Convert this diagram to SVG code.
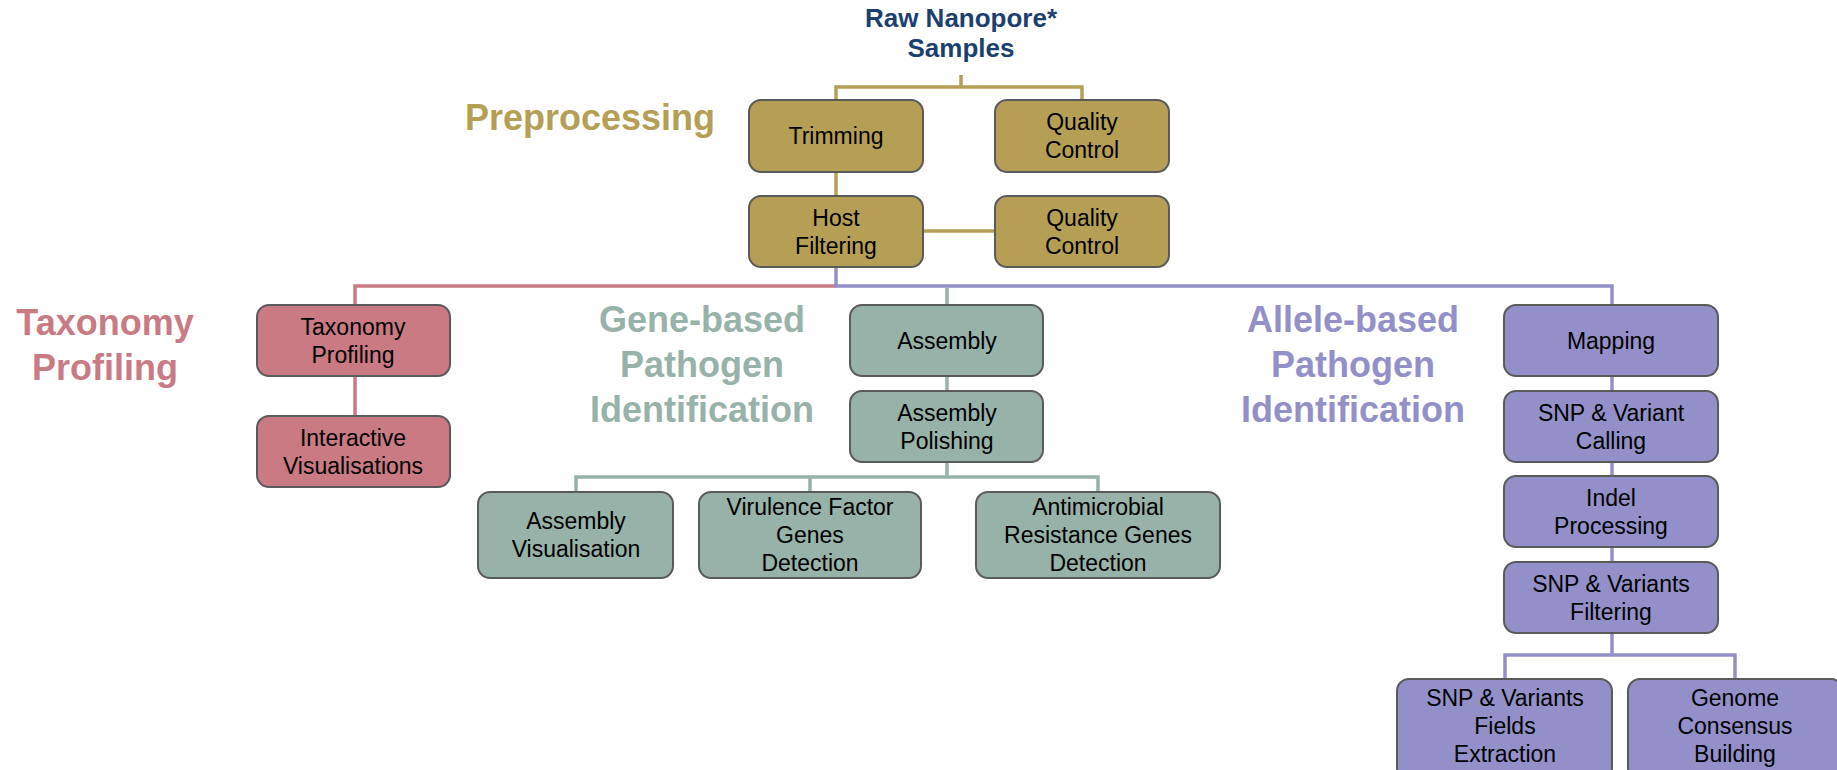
<svg xmlns="http://www.w3.org/2000/svg" width="1837" height="770" viewBox="0 0 1837 770">
<style>
.box{stroke:#5a5a5a;stroke-width:2}
.gold{fill:#b59f54}
.pink{fill:#c97a83}
.green{fill:#97b2a9}
.purple{fill:#9390c9}
.t{font-family:"Liberation Sans",Arial,sans-serif;font-size:23px;fill:#000;text-anchor:middle}
.h{font-family:"Liberation Sans",Arial,sans-serif;font-weight:bold;text-anchor:middle}
.c{fill:none;stroke-width:3.5}
</style>
<rect width="1837" height="770" fill="#fff"/>
<g id="labels">
<text class="h" x="961" y="27" font-size="26" fill="#1b3f6e">Raw Nanopore*</text>
<text class="h" x="961" y="57" font-size="26" fill="#1b3f6e">Samples</text>
<text class="h" x="590" y="130" font-size="36" fill="#b59f54">Preprocessing</text>
<text class="h" x="105" y="335" font-size="36" fill="#c97a83">Taxonomy</text>
<text class="h" x="105" y="380" font-size="36" fill="#c97a83">Profiling</text>
<text class="h" x="702" y="332" font-size="36" fill="#97b2a9">Gene-based</text>
<text class="h" x="702" y="377" font-size="36" fill="#97b2a9">Pathogen</text>
<text class="h" x="702" y="422" font-size="36" fill="#97b2a9">Identification</text>
<text class="h" x="1353" y="332" font-size="36" fill="#9390c9">Allele-based</text>
<text class="h" x="1353" y="377" font-size="36" fill="#9390c9">Pathogen</text>
<text class="h" x="1353" y="422" font-size="36" fill="#9390c9">Identification</text>
</g>
<g id="connectors">
<path class="c" stroke="#b59f54" d="M961 75V87M836 100V87H1082V100M836 172V196M923 231H995"/>
<path class="c" stroke="#c97a83" d="M836 286H355V305M355 376V416"/>
<path class="c" stroke="#97b2a9" d="M947 288V305M947 376V391M947 462V477M576 492V477H1098V492M810 477V492"/>
<path class="c" stroke="#9390c9" d="M836 267V286H1612V305M1612 376V391M1612 462V476M1612 547V562M1612 633V655M1505 679V655H1735V679"/>
</g>
<g id="trimming"><rect class="box gold" x="749" y="100" width="174" height="72" rx="12"/><text class="t" x="836" y="144">Trimming</text></g>
<g id="qc1"><rect class="box gold" x="995" y="100" width="174" height="72" rx="12"/><text class="t" x="1082" y="130">Quality</text><text class="t" x="1082" y="158">Control</text></g>
<g id="hostfiltering"><rect class="box gold" x="749" y="196" width="174" height="71" rx="12"/><text class="t" x="836" y="226">Host</text><text class="t" x="836" y="254">Filtering</text></g>
<g id="qc2"><rect class="box gold" x="995" y="196" width="174" height="71" rx="12"/><text class="t" x="1082" y="226">Quality</text><text class="t" x="1082" y="254">Control</text></g>
<g id="taxprof"><rect class="box pink" x="257" y="305" width="193" height="71" rx="12"/><text class="t" x="353" y="335">Taxonomy</text><text class="t" x="353" y="363">Profiling</text></g>
<g id="interactive"><rect class="box pink" x="257" y="416" width="193" height="71" rx="12"/><text class="t" x="353" y="446">Interactive</text><text class="t" x="353" y="474">Visualisations</text></g>
<g id="assembly"><rect class="box green" x="850" y="305" width="193" height="71" rx="12"/><text class="t" x="947" y="349">Assembly</text></g>
<g id="polishing"><rect class="box green" x="850" y="391" width="193" height="71" rx="12"/><text class="t" x="947" y="421">Assembly</text><text class="t" x="947" y="449">Polishing</text></g>
<g id="asmvis"><rect class="box green" x="478" y="492" width="195" height="86" rx="12"/><text class="t" x="576" y="529">Assembly</text><text class="t" x="576" y="557">Visualisation</text></g>
<g id="virulence"><rect class="box green" x="699" y="492" width="222" height="86" rx="12"/><text class="t" x="810" y="515">Virulence Factor</text><text class="t" x="810" y="543">Genes</text><text class="t" x="810" y="571">Detection</text></g>
<g id="amr"><rect class="box green" x="976" y="492" width="244" height="86" rx="12"/><text class="t" x="1098" y="515">Antimicrobial</text><text class="t" x="1098" y="543">Resistance Genes</text><text class="t" x="1098" y="571">Detection</text></g>
<g id="mapping"><rect class="box purple" x="1504" y="305" width="214" height="71" rx="12"/><text class="t" x="1611" y="349">Mapping</text></g>
<g id="snpcalling"><rect class="box purple" x="1504" y="391" width="214" height="71" rx="12"/><text class="t" x="1611" y="421">SNP &amp; Variant</text><text class="t" x="1611" y="449">Calling</text></g>
<g id="indel"><rect class="box purple" x="1504" y="476" width="214" height="71" rx="12"/><text class="t" x="1611" y="506">Indel</text><text class="t" x="1611" y="534">Processing</text></g>
<g id="filtering"><rect class="box purple" x="1504" y="562" width="214" height="71" rx="12"/><text class="t" x="1611" y="592">SNP &amp; Variants</text><text class="t" x="1611" y="620">Filtering</text></g>
<g id="fields"><rect class="box purple" x="1397" y="679" width="215" height="101" rx="12"/><text class="t" x="1505" y="706">SNP &amp; Variants</text><text class="t" x="1505" y="734">Fields</text><text class="t" x="1505" y="762">Extraction</text></g>
<g id="consensus"><rect class="box purple" x="1628" y="679" width="215" height="101" rx="12"/><text class="t" x="1735" y="706">Genome</text><text class="t" x="1735" y="734">Consensus</text><text class="t" x="1735" y="762">Building</text></g>
</svg>
